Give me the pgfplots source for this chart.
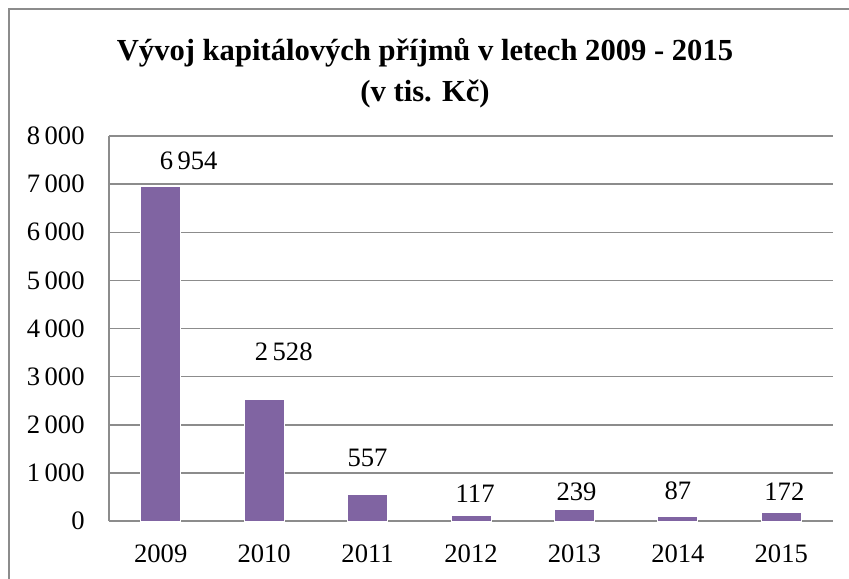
\documentclass[border=0pt]{standalone}
\usepackage{pgfplots}
\pgfplotsset{compat=1.18}
\usepackage{fontspec}
\setmainfont{Liberation Serif}
\definecolor{barviolet}{HTML}{8064A2}
\definecolor{gridgray}{HTML}{8C8C8C}

\begin{document}
\begin{tikzpicture}
  \useasboundingbox (-54.5pt,-28.5pt) rectangle (370pt,260.5pt);
  % outer chart frame
  \draw[gridgray, line width=0.7pt] (-50pt,-40pt) -- (-50pt,256pt) -- (380pt,256pt);
  \node[font=\bfseries\fontsize{15.3}{20.5}\selectfont, align=center] at (158pt,224pt)
    {Vývoj kapitálových příjmů v letech 2009 - 2015\\(v tis. Kč)};
  \begin{axis}[
      at={(0,0)}, anchor=south west,
      scale only axis, width=362pt, height=192.5pt,
      xmin=-0.5, xmax=6.5, ymin=0, ymax=8000,
      xtick={0,1,2,3,4,5,6},
      xticklabels={2009,2010,2011,2012,2013,2014,2015},
      ytick={0,1000,2000,3000,4000,5000,6000,7000,8000},
      scaled y ticks=false,
      ymajorgrids,
      grid style={gridgray, line width=0.75pt},
      axis x line*=bottom, axis y line*=left,
      axis line style={gridgray, line width=0.75pt},
      major tick length=0pt,
      tick label style={font=\fontsize{13.3}{15}\selectfont},
      /pgf/number format/assume math mode=true,
      /pgf/number format/1000 sep={\,},
      yticklabel style={anchor=east, inner sep=0pt, xshift=-12pt},
      xticklabel style={anchor=north, inner sep=0pt, yshift=-11.5pt},
      clip=false
    ]
    \addplot[ybar, bar width=20pt, bar shift=0pt, fill=barviolet, draw=white, line width=0.4pt]
      coordinates {(0,6954) (1,2528) (2,557) (3,117) (4,239) (5,87) (6,172)};
    % data labels, placed where the original chart has them
    \addplot[draw=none, nodes near coords, point meta=explicit symbolic,
      every node near coord/.append style={anchor=center, inner sep=0pt,
        font=\fontsize{13.3}{15}\selectfont}]
      table[col sep=semicolon, meta=lab] {
        x;y;lab
        0.27;7491;6\,954
        1.19;3512;2\,528
        2.00;1319;557
        3.04;561;117
        4.02;613;239
        5.00;623;87
        6.03;617;172
      };
  \end{axis}
\end{tikzpicture}
\end{document}
